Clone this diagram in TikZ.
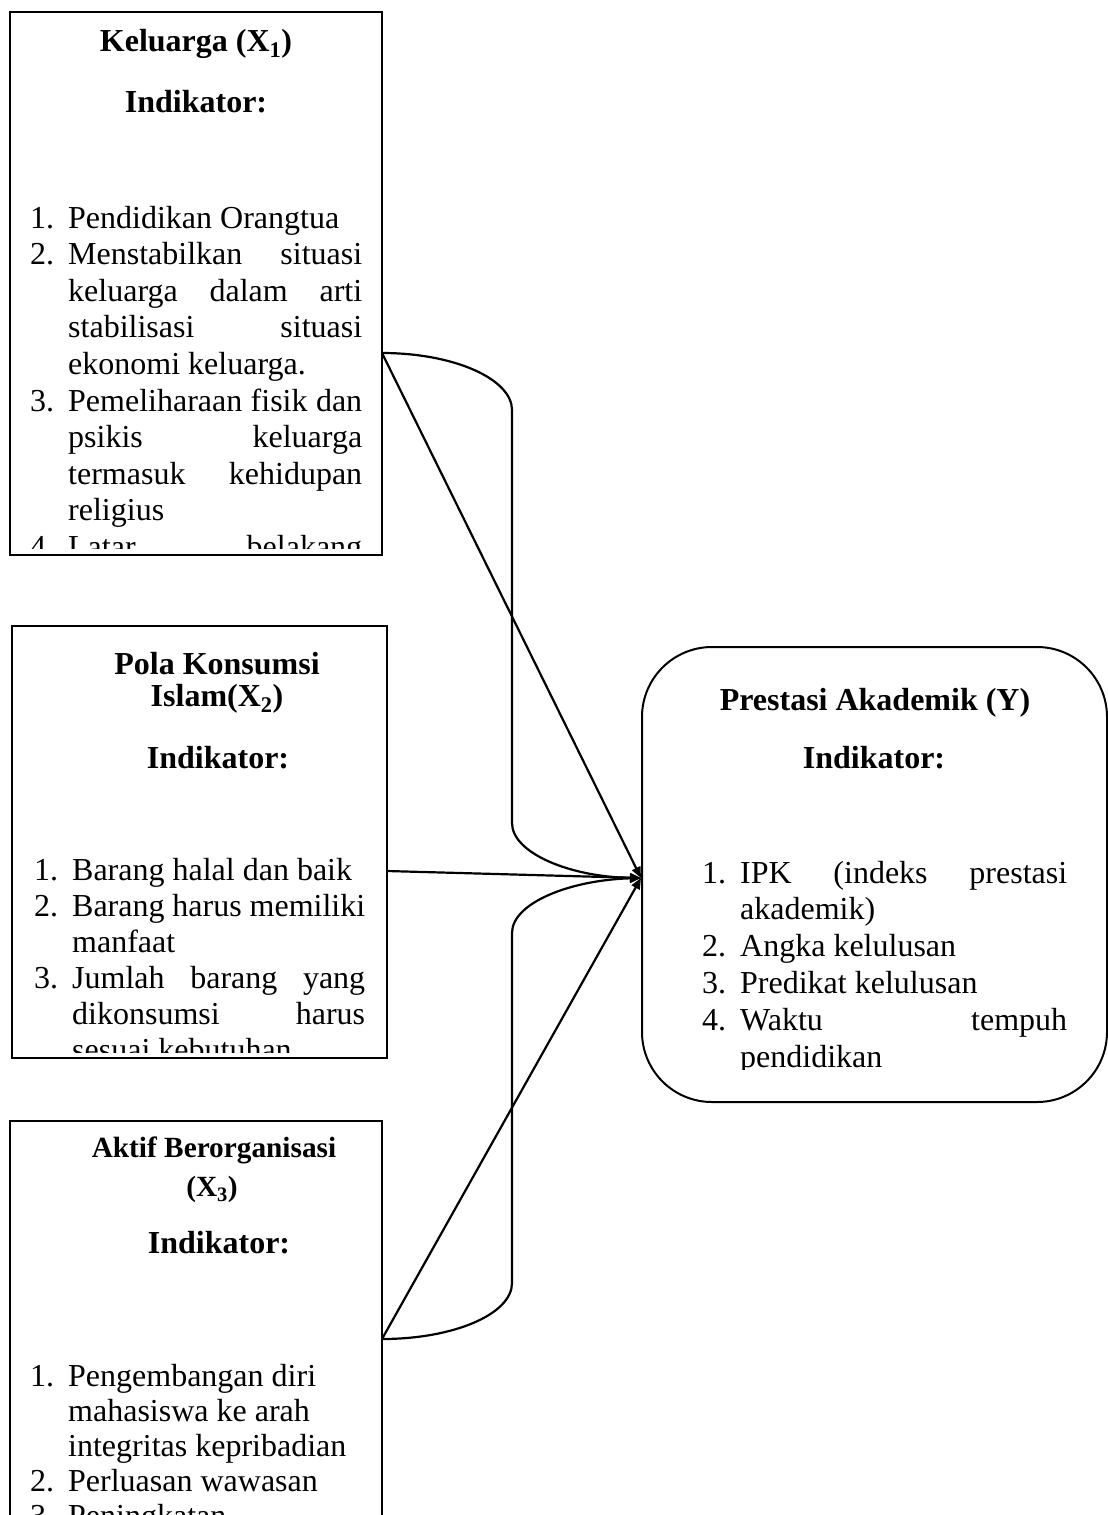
\documentclass[tikz,border=0pt]{standalone}
\usepackage{fontspec}
\setmainfont{Liberation Serif}
\usetikzlibrary{arrows.meta}

\newcommand{\litem}[2]{\par\hangindent=38pt\hangafter=1\noindent\makebox[38pt][l]{#1}#2\par}
\newcommand{\listsetup}[1]{\fontsize{32}{#1}\selectfont\tolerance=10000\hbadness=10000\hfuzz=20pt\hyphenpenalty=10000\exhyphenpenalty=10000\parindent=0pt\parskip=0pt}

\tikzset{
  box/.style={draw, line width=2pt, anchor=north west, inner sep=0pt, outer sep=0pt},
  ttl/.style={font=\bfseries\fontsize{32}{34}\selectfont, anchor=base, inner sep=0pt},
  ttlsmall/.style={font=\bfseries\fontsize{29.3}{32}\selectfont, anchor=base, inner sep=0pt},
  lst/.style={anchor=base west, inner sep=0pt},
  conn/.style={line width=2.2pt, -{Triangle[length=11pt,width=9pt]}},
}

\begin{document}
\begin{tikzpicture}[x=1pt,y=-1pt]
\useasboundingbox (0,0) rectangle (1108,1515);
\clip (0,0) rectangle (1108,1515);

% boxes
\node[box, minimum width=372pt, minimum height=543pt] (k1) at (10,12) {};
\node[box, minimum width=375pt, minimum height=432pt] (k2) at (12,626) {};
\node[box, minimum width=372pt, minimum height=480pt] (k3) at (10,1121) {};
\node[box, rounded corners=70pt, minimum width=465pt, minimum height=455pt] (ky) at (642,647) {};

% titles
\node[ttl] (t1a) at (196,51) {Keluarga (X\textsubscript{1})};
\node[ttl] (t1b) at (196,112) {Indikator:};
\node[ttl] (t2a) at (217,674) {Pola Konsumsi};
\node[ttl] (t2b) at (217,706) {Islam(X\textsubscript{2})};
\node[ttl] (t2c) at (218,768) {Indikator:};
\node[ttlsmall] (t3a) at (214,1157) {Aktif Berorganisasi};
\node[ttlsmall] (t3b) at (212,1196) {(X\textsubscript{3})};
\node[ttl] (t3c) at (219,1253) {Indikator:};
\node[ttl] (tya) at (875,710) {Prestasi Akademik (Y)};
\node[ttl] (tyb) at (874,768) {Indikator:};

% lists
\begin{scope}
\clip (12,14) rectangle (380,548);
\node[lst] (l1) at (30,228) {\begin{minipage}[t]{332pt}\listsetup{36.6}%
\litem{1.}{Pendidikan Orangtua}%
\litem{2.}{Menstabilkan situasi\linebreak keluarga dalam arti\linebreak stabilisasi situasi\linebreak ekonomi keluarga.}%
\litem{3.}{Pemeliharaan fisik dan\linebreak psikis keluarga\linebreak termasuk kehidupan\linebreak religius}%
\litem{4.}{Latar\hfill belakang}%
\end{minipage}};
\end{scope}

\begin{scope}
\clip (14,628) rectangle (385,1052);
\node[lst] (l2) at (34,880) {\begin{minipage}[t]{331pt}\listsetup{36}%
\litem{1.}{Barang halal dan baik}%
\litem{2.}{Barang harus memiliki\linebreak manfaat}%
\litem{3.}{Jumlah barang yang\linebreak dikonsumsi harus\linebreak sesuai kebutuhan}%
\end{minipage}};
\end{scope}

\begin{scope}
\clip (12,1123) rectangle (380,1515);
\node[lst] (l3) at (30,1386) {\begin{minipage}[t]{332pt}\listsetup{35}\raggedright
\litem{1.}{Pengembangan diri\linebreak mahasiswa ke arah\linebreak integritas kepribadian}%
\litem{2.}{Perluasan wawasan}%
\litem{3.}{Peningkatan}%
\end{minipage}};
\end{scope}

\begin{scope}
\clip (646,650) rectangle (1104,1069);
\node[lst] (ly) at (702,883) {\begin{minipage}[t]{365pt}\listsetup{36.8}%
\litem{1.}{IPK (indeks prestasi\linebreak akademik)}%
\litem{2.}{Angka kelulusan}%
\litem{3.}{Predikat kelulusan}%
\litem{4.}{Waktu tempuh\linebreak pendidikan}%
\end{minipage}};
\end{scope}

% connectors
\coordinate (p1) at (382,353);
\coordinate (p2) at (387,871);
\coordinate (p3) at (382,1339);
\coordinate (tip) at (641,878);

\draw[conn] (p1) -- (tip);
\draw[conn] (p1) .. controls (454,353) and (512,379) .. (512,410) -- (512,823) .. controls (512,853) and (570,877) .. (tip);
\draw[conn] (p2) -- (tip);
\draw[conn] (p3) -- (tip);
\draw[conn] (p3) .. controls (454,1339) and (512,1314) .. (512,1283) -- (512,933) .. controls (512,903) and (570,880) .. (tip);
\end{tikzpicture}
\end{document}
